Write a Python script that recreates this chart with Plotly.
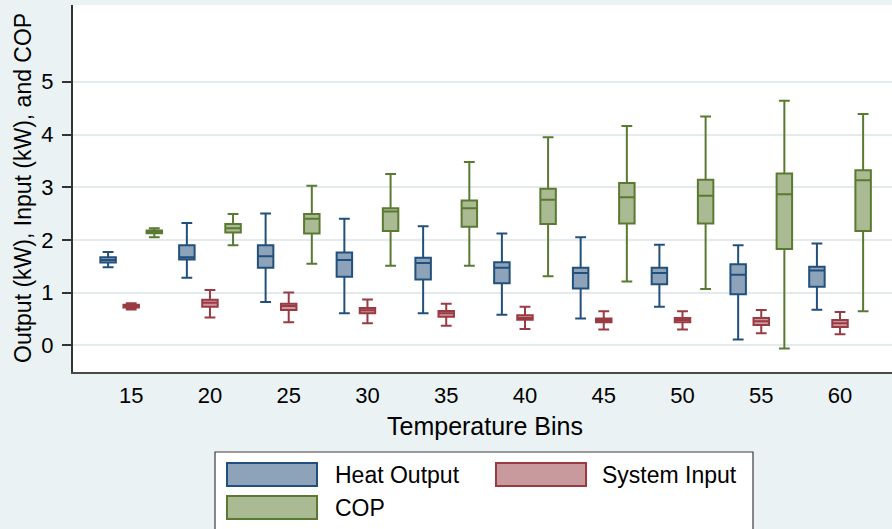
import plotly.graph_objects as go

# Temperature bins (categories)
bins = ["15", "20", "25", "30", "35", "40", "45", "50", "55", "60"]

# Heat Output (kW): whiskers, quartiles and medians per bin
heat_upper = [1.77, 2.32, 2.50, 2.40, 2.26, 2.12, 2.05, 1.91, 1.90, 1.93]
heat_q3 = [1.67, 1.90, 1.90, 1.76, 1.66, 1.575, 1.47, 1.47, 1.54, 1.49]
heat_med = [1.62, 1.67, 1.69, 1.62, 1.56, 1.47, 1.37, 1.37, 1.34, 1.42]
heat_q1 = [1.57, 1.63, 1.47, 1.30, 1.25, 1.18, 1.08, 1.16, 0.97, 1.11]
heat_lower = [1.48, 1.28, 0.82, 0.61, 0.61, 0.58, 0.51, 0.73, 0.11, 0.675]

# System Input (kW)
inp_upper = [0.80, 1.05, 1.00, 0.87, 0.79, 0.73, 0.645, 0.645, 0.67, 0.63]
inp_q3 = [0.77, 0.865, 0.79, 0.71, 0.65, 0.57, 0.51, 0.52, 0.52, 0.48]
inp_med = [0.745, 0.81, 0.745, 0.665, 0.61, 0.52, 0.47, 0.48, 0.455, 0.42]
inp_q1 = [0.72, 0.73, 0.67, 0.61, 0.54, 0.485, 0.44, 0.44, 0.385, 0.35]
inp_lower = [0.68, 0.53, 0.44, 0.42, 0.37, 0.31, 0.30, 0.30, 0.23, 0.21]

# COP
cop_upper = [2.22, 2.49, 3.03, 3.25, 3.48, 3.95, 4.16, 4.34, 4.64, 4.39]
cop_q3 = [2.18, 2.30, 2.49, 2.60, 2.75, 2.97, 3.08, 3.14, 3.26, 3.32]
cop_med = [2.155, 2.22, 2.40, 2.54, 2.60, 2.76, 2.81, 2.84, 2.865, 3.13]
cop_q1 = [2.125, 2.14, 2.12, 2.17, 2.25, 2.30, 2.31, 2.31, 1.83, 2.17]
cop_lower = [2.05, 1.90, 1.55, 1.51, 1.51, 1.31, 1.21, 1.07, -0.06, 0.645]

y_ticks = [0, 1, 2, 3, 4, 5]

series = [
    ("Heat Output", heat_lower, heat_q1, heat_med, heat_q3, heat_upper, "#22507C", "#8CA3BA"),
    ("System Input", inp_lower, inp_q1, inp_med, inp_q3, inp_upper, "#9A3A43", "#C99A9D"),
    ("COP", cop_lower, cop_q1, cop_med, cop_q3, cop_upper, "#5A7A31", "#AABA93"),
]

FONT = "Liberation Sans, Arial, sans-serif"
W_PX, H_PX = 892, 529
L, T, R, B = 73, 5, 0, 157
PW, PH = W_PX - L - R, H_PX - T - B


def px(x):
    return (x - L) / PW


def py(y):
    return (T + PH - y) / PH


fig = go.Figure()
for name, lo, q1, med, q3, hi, line_c, fill_c in series:
    fig.add_trace(go.Box(
        x=bins, lowerfence=lo, q1=q1, median=med, q3=q3, upperfence=hi,
        name=name, boxpoints=False, fillcolor=fill_c,
        line=dict(color=line_c, width=2), whiskerwidth=0.7,
        showlegend=False, hoverinfo="skip",
    ))

shapes = []
annotations = []

# legend frame and keys
shapes.append(dict(type="rect", xref="paper", yref="paper",
                   x0=px(215), x1=px(753), y0=py(545), y1=py(452),
                   line=dict(color="#3A3A3A", width=1.2), fillcolor="white", layer="below"))
legend_slots = [(227, 317, 333, 463, 486), (496, 586, 600, 463, 486), (227, 317, 333, 496, 519)]
for (name, *_rest), (kx0, kx1, tx, ky0, ky1) in zip(series, legend_slots):
    line_c, fill_c = _rest[-2], _rest[-1]
    shapes.append(dict(type="rect", xref="paper", yref="paper",
                       x0=px(kx0), x1=px(kx1), y0=py(ky1), y1=py(ky0),
                       line=dict(color=line_c, width=2), fillcolor=fill_c))
    annotations.append(dict(text=name, xref="paper", yref="paper", x=px(tx), y=py((ky0 + ky1) / 2),
                            xanchor="left", yanchor="middle", showarrow=False,
                            font=dict(family=FONT, size=23, color="black")))

# axis titles
annotations.append(dict(text="Temperature Bins", xref="paper", yref="paper", x=px(485), y=py(426),
                        xanchor="center", yanchor="middle", showarrow=False,
                        font=dict(family=FONT, size=25, color="black")))
annotations.append(dict(text="Output (kW), Input (kW), and COP", xref="paper", yref="paper",
                        x=px(23), y=py(188), xanchor="center", yanchor="middle", textangle=-90,
                        showarrow=False, font=dict(family=FONT, size=23, color="black")))

fig.update_layout(
    width=W_PX, height=H_PX,
    margin=dict(l=L, r=R, t=T, b=B, pad=0),
    paper_bgcolor="#EAF2F3", plot_bgcolor="white",
    boxmode="group", boxgap=0.12, boxgroupgap=0.33,
    shapes=shapes, annotations=annotations,
    font=dict(family=FONT, color="black"),
    showlegend=False,
)
fig.update_xaxes(
    type="category", range=[-0.739, 9.66], showgrid=False, zeroline=False,
    showline=True, linecolor="#4A4A4A", linewidth=2, ticks="",
    tickfont=dict(family=FONT, size=22, color="black"), ticklabelstandoff=3,
)
fig.update_yaxes(
    range=[-0.506, 6.457], tickvals=y_ticks, showgrid=True, gridcolor="#E3EBEE", gridwidth=1.5,
    zeroline=False, showline=True, linecolor="#333333", linewidth=2,
    ticks="outside", ticklen=9, tickwidth=1.5, tickcolor="#333333",
    tickfont=dict(family=FONT, size=22, color="black"), ticklabelstandoff=4,
)

fig.write_html("out.html")
